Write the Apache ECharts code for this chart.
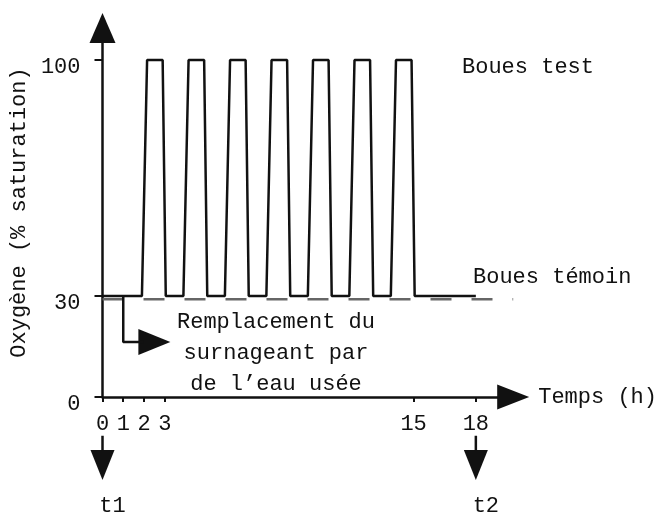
<!DOCTYPE html>
<html>
<head>
<meta charset="utf-8">
<script src="https://cdn.jsdelivr.net/npm/echarts@6/dist/echarts.min.js"></script>
<style>
  html, body { margin: 0; padding: 0; background: #fff; }
  #chart { width: 660px; height: 513px; }
</style>
</head>
<body>
<div id="chart"></div>
<script>
// tick labels
var xTicks = [0, 1, 2, 3, 15, 18];
var yTicks = [0, 30, 100];

// Boues test : O2 (% sat.) vs temps (h)
var bouesTest = [
    [0, 30], [1.9, 30], [2.15, 100], [2.9, 100], [3.05, 30],
    [3.9, 30], [4.15, 100], [4.9, 100], [5.05, 30],
    [5.9, 30], [6.15, 100], [6.9, 100], [7.05, 30],
    [7.9, 30], [8.15, 100], [8.9, 100], [9.05, 30],
    [9.9, 30], [10.15, 100], [10.9, 100], [11.05, 30],
    [11.9, 30], [12.15, 100], [12.9, 100], [13.05, 30],
    [13.9, 30], [14.15, 100], [14.9, 100], [15.05, 30],
    [18, 30]
];
// Boues témoin : stays at 30
var bouesTemoin = [[0, 29], [19.8, 29]];

// annotation: replacement of supernatant at t = 1 h
var replLine = [[1, 30], [1, 16.3], [2.0, 16.3]];
var replArrow = [[2.5, 16.3]];

// t1 / t2 sampling marks
var t1Stem = [[0, -11.5], [0, -16]];
var t2Stem = [[18, -11.5], [18, -16]];
var tMarks = [
    {name: 't1', value: [0, -20.2]},
    {name: 't2', value: [18, -20.2]}
];

var font = 'Liberation Mono';
var ink = '#111';

var myChart = echarts.init(document.getElementById('chart'));
var options = {
    animation: false,
    textStyle: {fontFamily: font},
    grid: {left: 96, right: 146, top: 28, bottom: 116},
    xAxis: {
        type: 'value',
        min: 0,
        max: 19.8,
        name: 'Temps (h)',
        nameLocation: 'end',
        nameGap: 25,
        nameTextStyle: {fontFamily: font, fontSize: 22, color: ink, verticalAlign: 'middle'},
        axisLine: {
            show: true,
            lineStyle: {color: ink, width: 2.5},
            symbol: ['none', 'triangle'],
            symbolSize: [25, 32]
        },
        axisTick: {show: true, customValues: xTicks, length: 5, lineStyle: {color: ink, width: 2}},
        axisLabel: {customValues: xTicks, margin: 16, fontFamily: font, fontSize: 22, color: ink},
        splitLine: {show: false}
    },
    yAxis: {
        type: 'value',
        min: 0,
        max: 109.5,
        name: 'Oxygène (% saturation)',
        nameLocation: 'middle',
        nameGap: 72,
        nameTextStyle: {fontFamily: font, fontSize: 22, color: ink},
        axisLine: {
            show: true,
            lineStyle: {color: ink, width: 2.5},
            symbol: ['none', 'triangle'],
            symbolSize: [26, 30]
        },
        axisTick: {show: true, customValues: yTicks, length: 8, lineStyle: {color: ink, width: 2}},
        axisLabel: {
            customValues: yTicks, margin: 22, fontFamily: font, fontSize: 22, color: ink,
            verticalAlign: 'top', lineHeight: 14
        },
        splitLine: {show: false}
    },
    graphic: [
        {type: 'text', x: 462, y: 67, style: {text: 'Boues test', font: '22px "Liberation Mono"', fill: ink, verticalAlign: 'middle'}},
        {type: 'text', x: 473, y: 277, style: {text: 'Boues témoin', font: '22px "Liberation Mono"', fill: ink, verticalAlign: 'middle'}},
        {type: 'text', x: 276, y: 307, style: {
            text: 'Remplacement du\nsurnageant par\nde l\u2019eau usée',
            font: '22px "Liberation Mono"', fill: ink, align: 'center', verticalAlign: 'top', lineHeight: 31
        }}
    ],
    series: [
        {
            name: 'Boues témoin',
            type: 'line',
            data: bouesTemoin,
            symbol: 'none',
            lineStyle: {color: '#666', width: 2.5, type: [21, 20]},
            z: 1
        },
        {
            name: 'Boues test',
            type: 'line',
            data: bouesTest,
            symbol: 'none',
            lineStyle: {color: ink, width: 2.5},
            z: 2
        },
        {
            type: 'line',
            data: replLine,
            symbol: 'none',
            clip: false,
            lineStyle: {color: ink, width: 2.5}
        },
        {
            type: 'scatter',
            data: replArrow,
            symbol: 'triangle',
            symbolSize: [26, 32],
            symbolRotate: -90,
            clip: false,
            itemStyle: {color: ink, opacity: 1}
        },
        {
            type: 'line',
            data: t1Stem,
            symbol: 'none',
            clip: false,
            lineStyle: {color: ink, width: 2.5}
        },
        {
            type: 'line',
            data: t2Stem,
            symbol: 'none',
            clip: false,
            lineStyle: {color: ink, width: 2.5}
        },
        {
            type: 'scatter',
            data: tMarks,
            symbol: 'triangle',
            symbolSize: [24, 30],
            symbolRotate: 180,
            clip: false,
            itemStyle: {color: ink, opacity: 1},
            label: {
                show: true,
                position: 'bottom',
                distance: 15,
                offset: [10, 0],
                formatter: '{b}',
                fontFamily: font,
                fontSize: 22,
                color: ink
            }
        }
    ]
};
myChart.setOption(options, true);
</script>
</body>
</html>
